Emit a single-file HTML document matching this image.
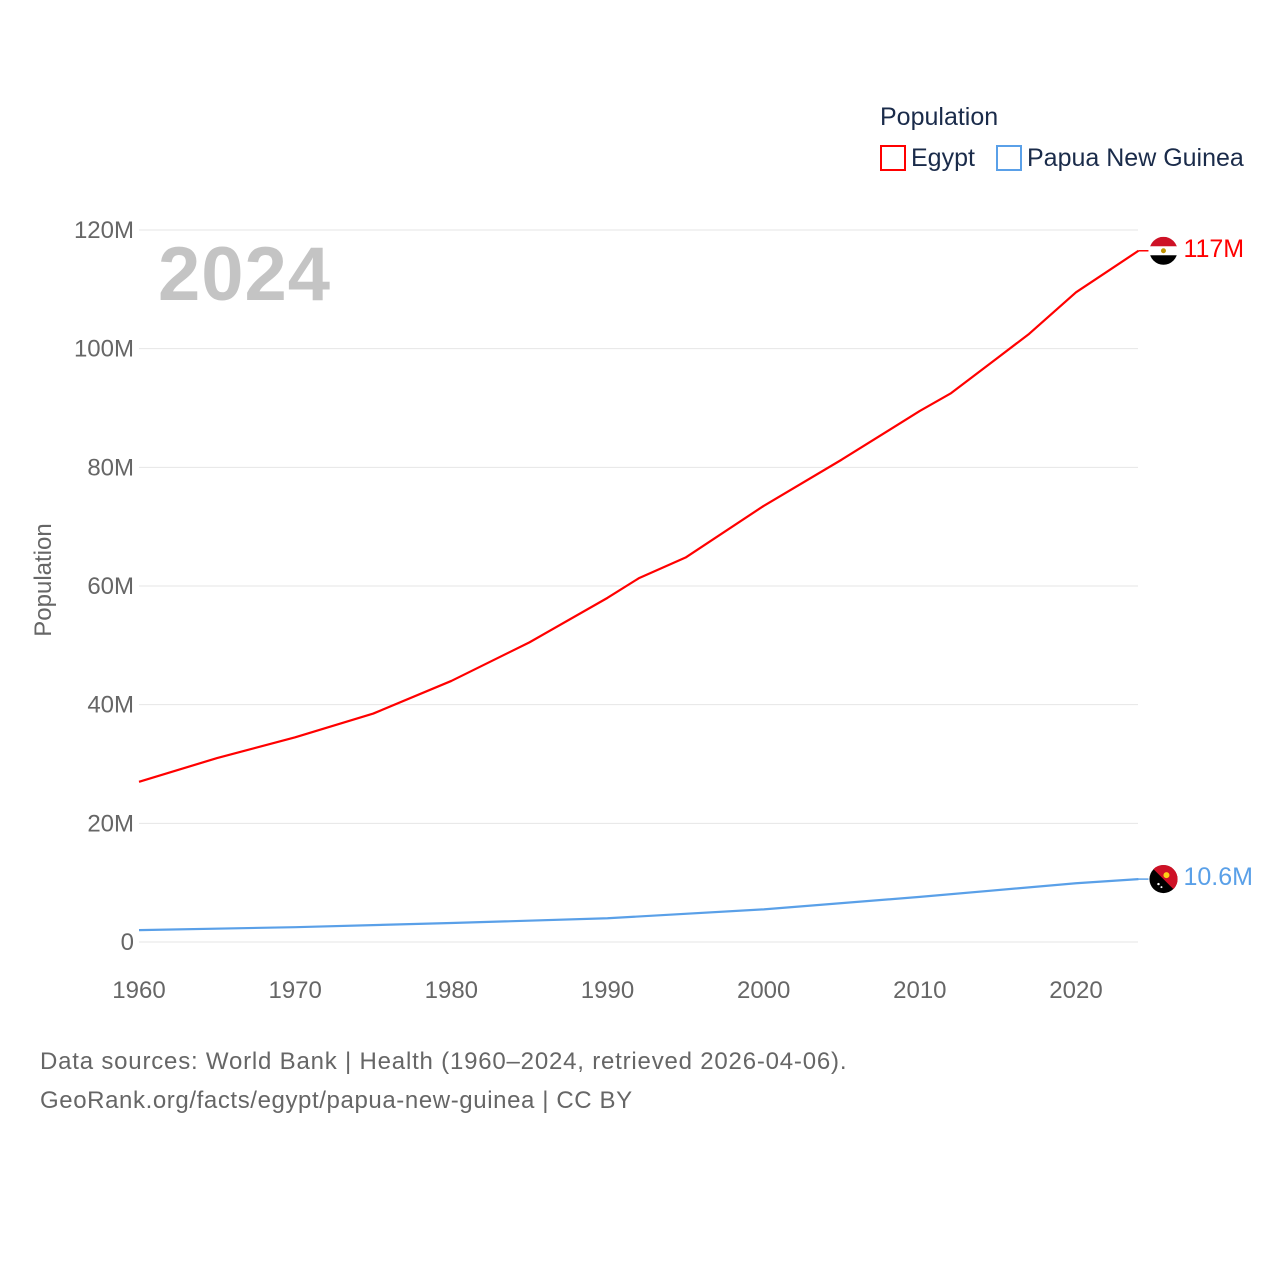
<!DOCTYPE html>
<html><head><meta charset="utf-8"><style>
body{margin:0;background:#fff;width:1280px;height:1280px;overflow:hidden;font-family:"Liberation Sans",sans-serif}
</style></head><body>
<svg id="chart" width="1280" height="1280" xmlns="http://www.w3.org/2000/svg">
<text x="880" y="125" font-size="25" fill="#1a2b4a">Population</text>
<g><rect x="881" y="146" width="24" height="24" fill="none" stroke="#ff0000" stroke-width="2"/><text x="911" y="166" font-size="25" fill="#1a2b4a">Egypt</text></g>
<g><rect x="997" y="146" width="24" height="24" fill="none" stroke="#5aa0e8" stroke-width="2"/><text x="1027" y="166" font-size="25" fill="#1a2b4a">Papua New Guinea</text></g>
<text x="158" y="300" font-size="76" font-weight="bold" fill="#c4c4c4" letter-spacing="1">2024</text>
<text transform="translate(51,580) rotate(-90)" text-anchor="middle" font-size="24" fill="#666">Population</text>
<g id="grid"></g><g id="lines"></g>
<text x="40" y="1069" font-size="24" fill="#666" letter-spacing="0.8">Data sources: World Bank | Health (1960–2024, retrieved 2026-04-06).</text>
<text x="40" y="1108" font-size="24" fill="#666" letter-spacing="0.6">GeoRank.org/facts/egypt/papua-new-guinea | CC BY</text>
</svg>
<script>
const yTicks=[0,20,40,60,80,100,120];
const xTicks=[1960,1970,1980,1990,2000,2010,2020];
const egyptYears=[1960,1965,1970,1975,1980,1985,1990,1992,1995,2000,2005,2010,2012,2015,2017,2020,2022,2024];
const egyptValues=[27,31,34.5,38.5,44,50.5,58,61.3,64.8,73.5,81.3,89.5,92.5,98.5,102.5,109.5,113,116.5];
const pngYears=[1960,1970,1980,1990,2000,2010,2020,2024];
const pngValues=[2.0,2.5,3.2,4.0,5.5,7.6,9.9,10.6];
const NS="http://www.w3.org/2000/svg";
const X=y=>139+(y-1960)*(1076-139)/60;
const Y=v=>942-v*(942-230)/120;
function mk(t,a,p){const e=document.createElementNS(NS,t);for(const k in a)e.setAttribute(k,a[k]);p.appendChild(e);return e;}
const grid=document.getElementById('grid'),lines=document.getElementById('lines');
yTicks.forEach(v=>{
 const l=mk('line',{x1:139,x2:1138,y1:Y(v),y2:Y(v),stroke:'#e6e6e6','stroke-width':1},grid);
 
 
 const t=mk('text',{x:134,y:Y(v)+8,'text-anchor':'end','font-size':24,fill:'#666'},grid);
 t.textContent=v===0?'0':v+'M';
 
 
});
xTicks.forEach(y=>{
 const t=mk('text',{x:X(y),y:998,'text-anchor':'middle','font-size':24,fill:'#666'},grid);
 t.textContent=y;
 
 
});
function series(ys,vs,c,name,label,flag){
 const d=ys.map((y,i)=>(i?'L':'M')+X(y)+','+Y(vs[i])).join('');
 const p=mk('path',{d:d,fill:'none',stroke:c,'stroke-width':2.2,'stroke-linejoin':'round'},lines);
 
 
 const lx=X(ys[ys.length-1]),ly=Y(vs[vs.length-1]);
 mk('line',{x1:lx,y1:ly,x2:lx+10,y2:ly,stroke:c,'stroke-width':1.5},lines);
 const g=mk('g',{},lines);
 
 
 flag(g,lx+25,ly);
 const t=mk('text',{x:lx+45,y:ly+6,'font-size':25,fill:c},lines);
 t.textContent=label;
 
 
}
series(egyptYears,egyptValues,'#ff0000','egypt','117M',(g,cx,cy)=>{
 mk('clipPath',{id:'ce'},g).appendChild(mk('circle',{cx:cx,cy:cy,r:14},g));
 const s=mk('g',{'clip-path':'url(#ce)'},g);
 mk('rect',{x:cx-14,y:cy-14,width:28,height:10,fill:'#ce1126'},s);
 mk('rect',{x:cx-14,y:cy-4.5,width:28,height:9,fill:'#fff'},s);
 mk('rect',{x:cx-14,y:cy+4.5,width:28,height:10,fill:'#000'},s);
 mk('circle',{cx:cx,cy:cy,r:2.5,fill:'#c09300'},s);
});
series(pngYears,pngValues,'#5aa0e8','png','10.6M',(g,cx,cy)=>{
 mk('circle',{cx:cx,cy:cy,r:14,fill:'#000'},g);
 mk('path',{d:`M${cx-10},${cy-10}A14,14 0 0 1 ${cx+10},${cy+10}Z`,fill:'#ce1126'},g);
 mk('circle',{cx:cx+3,cy:cy-4,r:3,fill:'#fcd116'},g);
 mk('circle',{cx:cx-5,cy:cy+5,r:1.2,fill:'#fff'},g);
 mk('circle',{cx:cx-2,cy:cy+8,r:1,fill:'#fff'},g);
});
</script>
</body></html>
